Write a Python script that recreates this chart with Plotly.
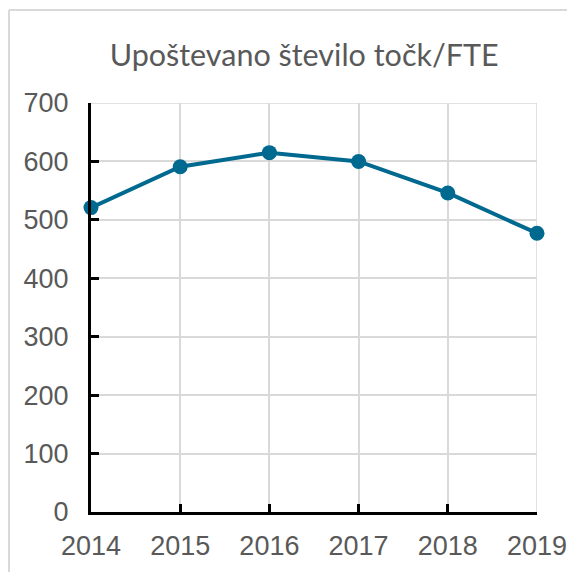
import plotly.graph_objects as go

years = [2014, 2015, 2016, 2017, 2018, 2019]
values = [521, 591, 615, 600, 546, 477]
y_ticks = [0, 100, 200, 300, 400, 500, 600, 700]
title_text = "Upoštevano število točk/FTE"

LINE = "#00698f"
GRID = "#d9d9d9"
TXT = "#595959"
TICKFONT = "Liberation Sans"

fig = go.Figure()
fig.add_trace(go.Scatter(
    x=years, y=values, mode="lines+markers",
    line=dict(color=LINE, width=4),
    marker=dict(color=LINE, size=15),
    cliponaxis=False, showlegend=False,
))

fig.update_layout(
    width=575, height=572,
    margin=dict(l=83, r=46, t=95, b=68, autoexpand=False),
    paper_bgcolor="white", plot_bgcolor="white",
    title=dict(text=title_text, x=0.515, xanchor="center", y=1 - 58/572, yanchor="bottom",
               font=dict(family="Lato", size=30.5, color=TXT)),
    xaxis=dict(range=[2014, 2019], tickvals=years, ticktext=[str(y) for y in years],
               showgrid=True, gridcolor=GRID, gridwidth=1.5,
               showline=True, linecolor="black", linewidth=3,
               ticks="inside", ticklen=8, tickwidth=3, tickcolor="black",
               tickfont=dict(family=TICKFONT, size=27, color=TXT),
               ticklabelstandoff=8,
               automargin=False, zeroline=False),
    yaxis=dict(range=[0, 700], tickvals=y_ticks,
               showgrid=True, gridcolor=GRID, gridwidth=1.5,
               showline=True, linecolor="black", linewidth=3,
               ticks="inside", ticklen=8, tickwidth=3, tickcolor="black",
               tickfont=dict(family=TICKFONT, size=27, color=TXT),
               ticklabelstandoff=14,
               automargin=False, zeroline=False),
)

# right & top boundary gridlines (box)
fig.add_shape(type="line", xref="x", yref="y", x0=2014, x1=2019, y0=700, y1=700,
              line=dict(color=GRID, width=1.5), layer="below")
fig.add_shape(type="line", xref="x", yref="y", x0=2019, x1=2019, y0=0, y1=700,
              line=dict(color=GRID, width=1.5), layer="below")

# outer chart border (left and top only visible)
fig.add_shape(type="line", xref="paper", yref="paper",
              x0=-82/446, x1=1.2, y0=1 + 93/409, y1=1 + 93/409,
              line=dict(color=GRID, width=2))
fig.add_shape(type="line", xref="paper", yref="paper",
              x0=-82/446, x1=-82/446, y0=1 + 93/409, y1=-0.2,
              line=dict(color=GRID, width=2))

fig.write_html("out.html")
